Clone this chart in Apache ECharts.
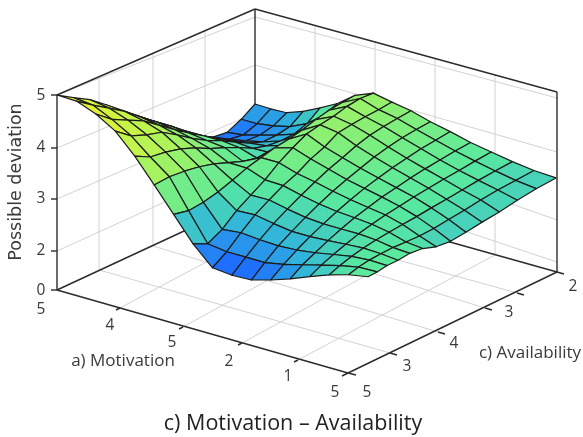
<!DOCTYPE html>
<html><head><meta charset="utf-8">
<style>html,body{margin:0;padding:0;background:#fff}#c{width:583px;height:437px}</style>
<script src="https://cdn.jsdelivr.net/npm/echarts@6/dist/echarts.min.js"></script>
</head><body><div id="c"></div>
<script>
// Possible deviation, rows = Motivation grid index, columns = Availability grid index
const deviation = [
[5.00,4.81,4.63,4.39,4.14,3.89,3.65,3.38,3.14,2.92,2.76,2.72,2.85,3.03],
[5.00,4.78,4.58,4.37,4.12,3.88,3.65,3.41,3.18,2.97,2.81,2.76,2.85,3.02],
[4.87,4.62,4.46,4.30,4.07,3.84,3.62,3.42,3.22,3.02,2.88,2.85,2.90,3.03],
[4.66,4.42,4.29,4.19,3.99,3.77,3.58,3.43,3.25,3.08,2.96,2.95,2.98,3.15],
[4.30,4.13,4.07,3.98,3.85,3.68,3.55,3.40,3.23,3.13,3.08,3.07,3.14,3.32],
[3.87,3.87,3.82,3.75,3.65,3.52,3.39,3.30,3.25,3.25,3.30,3.36,3.42,3.51],
[3.43,3.34,3.34,3.38,3.45,3.53,3.58,3.62,3.64,3.67,3.73,3.77,3.78,3.78],
[2.99,2.83,2.94,3.14,3.28,3.42,3.60,3.74,3.86,3.89,3.91,3.96,3.97,3.93],
[2.66,2.80,3.00,3.18,3.31,3.43,3.51,3.64,3.72,3.85,3.86,3.86,3.85,3.85],
[2.64,2.82,2.99,3.14,3.26,3.37,3.47,3.56,3.63,3.71,3.76,3.78,3.78,3.78],
[2.67,2.84,3.00,3.12,3.23,3.33,3.42,3.49,3.55,3.61,3.65,3.67,3.67,3.66],
[2.79,2.93,3.05,3.15,3.24,3.32,3.39,3.45,3.49,3.53,3.55,3.57,3.57,3.57],
[2.93,3.05,3.13,3.21,3.28,3.34,3.38,3.42,3.44,3.46,3.47,3.47,3.47,3.46],
[3.09,3.17,3.23,3.28,3.33,3.36,3.38,3.39,3.40,3.40,3.40,3.39,3.39,3.38],
[3.24,3.29,3.33,3.35,3.36,3.36,3.35,3.34,3.34,3.33,3.33,3.33,3.32,3.30],
[3.36,3.39,3.40,3.39,3.37,3.33,3.29,3.27,3.27,3.27,3.28,3.28,3.26,3.24],
[3.44,3.43,3.44,3.42,3.42,3.37,3.25,3.19,3.19,3.20,3.20,3.22,3.23,3.21]
];
const zTickLabels = ['0','2','3','4','5'];
const motivationTickLabels = ['5','4','5','2','1','5'];
const availabilityTickLabels = ['5','3','4','3','2'];
const titleText = 'c) Motivation \u2013 Availability';
const zTitle = 'Possible deviation';
const motivationTitle = 'a) Motivation';
const availabilityTitle = 'c) Availability';
const colorRamp = ['#1e6cff','#30b4dc','#58e8a0','#7cee80','#a4f260','#c0f44c','#d8f23c','#e8ee30'];

// ---- layout of the picture (box and view), not data
const NI = deviation.length - 1, NJ = deviation[0].length - 1;
const mix = (a,b,t) => a + (b-a)*t;
function project(i,j,z){
  const s0=i/NI, v0=j/NJ, s=s0-0.18*s0*(1-s0)*v0, v=v0+(0.1-0.5*s0*s0*s0)*v0*(1-v0);
  const q=(L,F,B,R)=>mix(mix(L,F,s),mix(B,R,s),v);
  return [q(57,368,255,556), q(290,395,190,272)-(z-1.25)*q(52,54,48.3,48)];
}
const cells=[];
for(let i=0;i<NI;i++) for(let j=NJ-1;j>=0;j--){
  const a=deviation[i][j],b=deviation[i+1][j],c=deviation[i+1][j+1],d=deviation[i][j+1];
  cells.push([i,j,(a+b+c+d)/4,a,b,c,d]);
}
const gray='#d2d2d2', dark='#2b2b2b';
const wallGrid=[
 [99,77,99,270],[153,53,153,246],[205,31,205,221],
 [315,26,315,204],[375,42,375,221],[435,59,435,238],[495,75,495,255],
 [57,95,255,17],[255,17,557,98],[57,148,255,65],[255,65,557,152],
 [57,199,255,113],[255,113,557,220],[57,251,255,161],[255,161,557,262],
 [120,308,315,204],[183,327,375,221],[242,343,435,238],[298,360,495,255],
 [99,270,390,353],[153,246,438,332],[205,221,485,308],[225,212,517,293]
];
const box=[
 [57,95,57,290],[57,95,255,9],[255,9,557,92],[557,92,557,272],[255,9,255,120],
 [57,290,348,373],[348,373,557,272],[57,290,225,212],[557,272,300,200],
 [57,95,51,95],[57,148,51,148],[57,199,51,199],[57,251,51,251],[57,290,51,290],
 [120,308,116,310],[183,327,179,329],[242,343,238,345],[298,360,294,362],[348,373,342,376],
 [390,353,397,355],[438,332,445,334],[485,308,492,310],[517,293,524,295],[348,373,356,375],[557,272,564,274]
];
const lineSeries=(list,color,width)=>({type:'custom',coordinateSystem:'cartesian2d',silent:true,clip:false,
  data:list,encode:{x:0,y:1},
  renderItem:(p,api)=>{const a=api.coord([api.value(0),api.value(1)]),b=api.coord([api.value(2),api.value(3)]);
    return {type:'line',shape:{x1:a[0],y1:a[1],x2:b[0],y2:b[1]},style:{stroke:color,lineWidth:width}};}});
const txt=(t,x,y,size,fill)=>({type:'text',x,y,style:{text:t,fontFamily:'Open Sans',fontSize:size,fill:fill||'#3a3a3a',textAlign:'center',textVerticalAlign:'middle'}});
const labels=[
 txt(titleText,293,424,21.5,'#222'),
 txt(motivationTitle,123,361,17),txt(availabilityTitle,530,353,17),
 {type:'text',x:16,y:182,rotation:Math.PI/2,style:{text:zTitle,fontFamily:'DejaVu Sans',fontSize:17.5,fill:'#3a3a3a',textAlign:'center',textVerticalAlign:'middle'}}
];
[[41,291],[41,251],[41,199],[41,148],[41,96]].forEach((p,k)=>labels.push(txt(zTickLabels[k],p[0],p[1],15.5)));
[[41,310],[110,326],[172,343],[229,362],[288,377],[335,393]].forEach((p,k)=>labels.push(txt(motivationTickLabels[k],p[0],p[1],15.5)));
[[367,393],[407,367],[454,344],[509,313],[573,287]].forEach((p,k)=>labels.push(txt(availabilityTickLabels[k],p[0],p[1],15.5)));
const chart=echarts.init(document.getElementById('c'));
chart.setOption({
  animation:false,backgroundColor:'#fff',
  grid:{left:0,top:0,width:583,height:437},
  xAxis:{type:'value',min:0,max:583,show:false},
  yAxis:{type:'value',min:0,max:437,inverse:true,show:false},
  visualMap:{show:false,seriesIndex:2,dimension:2,min:2.72,max:5,inRange:{color:colorRamp}},
  graphic:labels,
  series:[
    lineSeries(wallGrid,gray,1),
    lineSeries(box,dark,1.4),
    {type:'custom',coordinateSystem:'cartesian2d',silent:true,clip:false,data:cells,encode:{x:0,y:1},
     renderItem:(p,api)=>{
       const i=api.value(0),j=api.value(1);
       const pts=[[i,j,3],[i+1,j,4],[i+1,j+1,5],[i,j+1,6]].map(q=>api.coord(project(q[0],q[1],api.value(q[2]))));
       return {type:'polygon',shape:{points:pts},style:{fill:api.visual('color'),stroke:'#1c1c1c',lineWidth:1.2,lineJoin:'round'}};
     }}
  ]
});
</script></body></html>
